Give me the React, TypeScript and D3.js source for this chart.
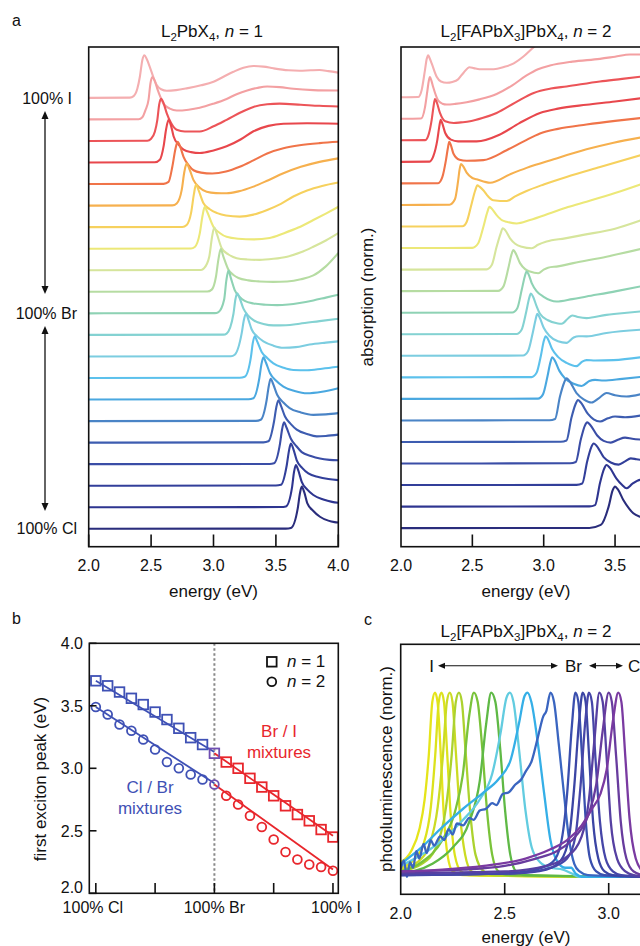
import React from 'react';
import * as d3 from 'd3';

type Pt = [number, number];

const FONT = '"Liberation Sans", Arial, Helvetica, sans-serif';

// ---------- panel a : absorption traces (index 0 = 100% I, top ... 20 = 100% Cl, bottom)
const absColors = ['#f4aeb0', '#f3a0a2', '#ec5458', '#e8474c', '#f07449', '#f6b04e', '#f6d15e', '#ece878', '#d6e59c', '#b6dca2', '#8ed2b4', '#84d2d2', '#7ccde0', '#5cc1ec', '#4aa8e0', '#4a84c6', '#3d5cb0', '#3a4da6', '#323f9a', '#2e3590', '#2a2d7c'];

const absN1: Pt[][] = [
  [[2.0, 0.02], [2.33, 0.03], [2.36, 0.1], [2.39, 0.45], [2.41, 1.0], [2.43, 1.78], [2.446, 2.0], [2.465, 1.82], [2.49, 1.45], [2.52, 0.95], [2.545, 0.62], [2.58, 0.42], [2.625, 0.35], [2.7, 0.38], [2.785, 0.46], [2.9, 0.6], [3.0, 0.77], [3.08, 1.0], [3.16, 1.23], [3.24, 1.42], [3.32, 1.5], [3.4, 1.47], [3.48, 1.39], [3.6, 1.3], [3.69, 1.28], [3.78, 1.3], [3.85, 1.31], [3.92, 1.26], [4.0, 1.19]],
  [[2.0, 0.02], [2.4, 0.03], [2.43, 0.12], [2.455, 0.45], [2.48, 0.95], [2.495, 1.7], [2.51, 1.98], [2.528, 1.82], [2.55, 1.44], [2.575, 1.05], [2.6, 0.74], [2.65, 0.52], [2.705, 0.43], [2.8, 0.47], [2.89, 0.56], [3.0, 0.75], [3.105, 0.97], [3.19, 1.2], [3.27, 1.36], [3.35, 1.48], [3.43, 1.55], [3.53, 1.52], [3.64, 1.44], [3.8, 1.38], [4.0, 1.36]],
  [[2.0, 0.02], [2.47, 0.03], [2.5, 0.12], [2.53, 0.45], [2.55, 1.0], [2.565, 1.72], [2.58, 1.98], [2.6, 1.77], [2.625, 1.31], [2.66, 0.85], [2.705, 0.54], [2.77, 0.46], [2.89, 0.46], [3.0, 0.7], [3.105, 1.0], [3.22, 1.35], [3.32, 1.6], [3.43, 1.72], [3.53, 1.75], [3.7, 1.7], [3.85, 1.65], [4.0, 1.62]],
  [[2.0, 0.02], [2.53, 0.03], [2.57, 0.15], [2.6, 0.77], [2.62, 1.55], [2.64, 2.0], [2.66, 1.72], [2.68, 1.24], [2.72, 0.85], [2.76, 0.62], [2.82, 0.5], [2.89, 0.46], [3.0, 0.58], [3.105, 0.77], [3.22, 1.1], [3.32, 1.47], [3.44, 1.72], [3.56, 1.82], [3.75, 1.84], [4.0, 1.82]],
  [[2.0, 0.02], [2.6, 0.03], [2.64, 0.12], [2.67, 0.82], [2.695, 1.65], [2.713, 1.98], [2.735, 1.72], [2.76, 1.28], [2.8, 0.9], [2.84, 0.66], [2.9, 0.55], [2.99, 0.51], [3.1, 0.6], [3.21, 0.82], [3.32, 1.12], [3.43, 1.44], [3.56, 1.68], [3.69, 1.82], [3.85, 1.92], [4.0, 1.98]],
  [[2.0, 0.02], [2.67, 0.03], [2.705, 0.12], [2.745, 0.74], [2.767, 1.6], [2.785, 1.98], [2.807, 1.72], [2.84, 1.2], [2.89, 0.85], [2.945, 0.66], [3.02, 0.6], [3.105, 0.59], [3.2, 0.68], [3.32, 0.9], [3.44, 1.2], [3.56, 1.52], [3.7, 1.82], [3.85, 2.05], [4.0, 2.21]],
  [[2.0, 0.02], [2.75, 0.03], [2.785, 0.12], [2.82, 0.67], [2.843, 1.55], [2.86, 2.0], [2.88, 1.74], [2.92, 1.13], [2.97, 0.85], [3.03, 0.67], [3.1, 0.56], [3.21, 0.51], [3.32, 0.6], [3.43, 0.82], [3.54, 1.1], [3.64, 1.44], [3.75, 1.72], [3.87, 1.93], [4.0, 2.09]],
  [[2.0, 0.02], [2.82, 0.03], [2.85, 0.1], [2.89, 0.73], [2.912, 1.55], [2.93, 1.96], [2.95, 1.72], [3.0, 1.03], [3.05, 0.75], [3.105, 0.57], [3.2, 0.48], [3.32, 0.45], [3.45, 0.52], [3.56, 0.73], [3.68, 1.0], [3.8, 1.35], [3.9, 1.65], [4.0, 1.96]],
  [[2.0, 0.02], [2.9, 0.03], [2.924, 0.11], [2.966, 0.65], [2.988, 1.55], [3.006, 2.0], [3.028, 1.68], [3.066, 1.04], [3.12, 0.75], [3.186, 0.58], [3.27, 0.52], [3.37, 0.5], [3.48, 0.55], [3.59, 0.65], [3.7, 0.85], [3.8, 1.11], [3.9, 1.4], [4.0, 1.74]],
  [[2.0, 0.02], [2.95, 0.03], [2.986, 0.12], [3.02, 0.73], [3.04, 1.55], [3.058, 2.0], [3.08, 1.64], [3.12, 1.04], [3.16, 0.8], [3.2, 0.66], [3.28, 0.55], [3.37, 0.5], [3.48, 0.48], [3.59, 0.5], [3.7, 0.6], [3.8, 0.78], [3.9, 1.2], [4.0, 1.82]],
  [[2.0, 0.02], [3.01, 0.03], [3.04, 0.08], [3.085, 0.65], [3.103, 1.55], [3.12, 2.0], [3.14, 1.64], [3.17, 1.1], [3.21, 0.78], [3.25, 0.6], [3.32, 0.48], [3.42, 0.42], [3.51, 0.4], [3.6, 0.43], [3.69, 0.5], [3.8, 0.62], [3.9, 0.75], [4.0, 0.88]],
  [[2.0, 0.02], [3.08, 0.03], [3.105, 0.08], [3.16, 1.0], [3.175, 1.65], [3.19, 1.95], [3.21, 1.72], [3.24, 1.24], [3.28, 0.9], [3.32, 0.7], [3.4, 0.53], [3.48, 0.46], [3.58, 0.47], [3.69, 0.54], [3.85, 0.66], [4.0, 0.77]],
  [[2.0, 0.02], [3.14, 0.03], [3.17, 0.1], [3.226, 1.1], [3.243, 1.7], [3.26, 2.0], [3.28, 1.72], [3.306, 1.27], [3.35, 0.95], [3.4, 0.72], [3.48, 0.52], [3.56, 0.42], [3.66, 0.45], [3.77, 0.57], [3.9, 0.66], [4.0, 0.72]],
  [[2.0, 0.02], [3.21, 0.03], [3.25, 0.08], [3.3, 1.0], [3.315, 1.65], [3.33, 1.96], [3.35, 1.72], [3.386, 1.23], [3.43, 0.95], [3.48, 0.7], [3.56, 0.5], [3.64, 0.39], [3.75, 0.38], [3.87, 0.45], [4.0, 0.54]],
  [[2.0, 0.02], [3.28, 0.03], [3.32, 0.08], [3.367, 1.0], [3.384, 1.65], [3.4, 1.98], [3.42, 1.74], [3.453, 1.24], [3.5, 0.9], [3.56, 0.62], [3.65, 0.42], [3.75, 0.31], [3.87, 0.38], [4.0, 0.54]],
  [[2.0, 0.02], [3.34, 0.03], [3.378, 0.08], [3.426, 1.0], [3.443, 1.65], [3.458, 1.98], [3.478, 1.74], [3.51, 1.24], [3.56, 0.88], [3.61, 0.62], [3.7, 0.42], [3.8, 0.31], [3.9, 0.33], [4.0, 0.39]],
  [[2.0, 0.02], [3.4, 0.03], [3.44, 0.08], [3.485, 1.0], [3.503, 1.65], [3.52, 1.98], [3.54, 1.74], [3.573, 1.23], [3.62, 0.88], [3.667, 0.62], [3.75, 0.42], [3.827, 0.31], [3.9, 0.33], [4.0, 0.39]],
  [[2.0, 0.02], [3.45, 0.03], [3.485, 0.06], [3.533, 0.97], [3.55, 1.65], [3.565, 1.96], [3.585, 1.72], [3.62, 1.2], [3.665, 0.85], [3.707, 0.58], [3.78, 0.4], [3.853, 0.28], [3.93, 0.22], [4.0, 0.2]],
  [[2.0, 0.02], [3.5, 0.03], [3.54, 0.06], [3.587, 0.97], [3.605, 1.65], [3.62, 1.98], [3.64, 1.72], [3.667, 1.2], [3.71, 0.85], [3.76, 0.59], [3.84, 0.42], [3.92, 0.33], [4.0, 0.28]],
  [[2.0, 0.02], [3.54, 0.03], [3.58, 0.06], [3.63, 0.97], [3.645, 1.65], [3.66, 1.98], [3.68, 1.72], [3.707, 1.2], [3.75, 0.85], [3.8, 0.59], [3.88, 0.38], [3.95, 0.27], [4.0, 0.23]],
  [[2.0, 0.02], [3.58, 0.03], [3.62, 0.06], [3.675, 0.97], [3.692, 1.65], [3.707, 1.98], [3.727, 1.72], [3.752, 1.2], [3.8, 0.85], [3.853, 0.58], [3.92, 0.4], [3.97, 0.33], [4.0, 0.31]],
];

const absN2: Pt[][] = [
  [[2.0, 0.05], [2.12, 0.06], [2.145, 0.39], [2.168, 1.31], [2.18, 1.82], [2.19, 2.0], [2.2, 1.87], [2.215, 1.62], [2.25, 1.0], [2.28, 0.78], [2.32, 0.72], [2.36, 0.76], [2.4, 0.88], [2.44, 1.2], [2.48, 1.44], [2.51, 1.4], [2.55, 1.35], [2.65, 1.35], [2.72, 1.45], [2.79, 1.62], [2.86, 1.95], [2.93, 2.37], [3.0, 2.7], [3.1, 2.95], [3.3, 3.15], [3.7, 3.3]],
  [[2.0, 0.05], [2.14, 0.06], [2.168, 0.58], [2.185, 1.36], [2.195, 1.82], [2.203, 1.98], [2.213, 1.82], [2.226, 1.51], [2.26, 0.9], [2.29, 0.75], [2.32, 0.71], [2.38, 0.74], [2.46, 0.82], [2.55, 0.95], [2.67, 1.2], [2.78, 1.6], [2.88, 2.06], [2.96, 2.35], [3.044, 2.52], [3.2, 2.7], [3.394, 2.83], [3.5, 2.93], [3.605, 3.03], [3.7, 3.03]],
  [[2.0, 0.05], [2.17, 0.06], [2.195, 0.35], [2.215, 1.0], [2.228, 1.62], [2.238, 1.97], [2.25, 1.82], [2.273, 1.32], [2.31, 0.93], [2.37, 0.85], [2.42, 0.88], [2.484, 0.93], [2.57, 1.08], [2.67, 1.32], [2.8, 1.8], [2.93, 2.25], [3.05, 2.45], [3.16, 2.55], [3.394, 2.78], [3.55, 2.9], [3.7, 3.02]],
  [[2.0, 0.05], [2.2, 0.06], [2.226, 0.3], [2.255, 1.08], [2.268, 1.67], [2.278, 2.0], [2.29, 1.82], [2.31, 1.39], [2.35, 1.08], [2.4, 1.0], [2.53, 1.0], [2.69, 1.31], [2.83, 1.85], [2.974, 2.32], [3.1, 2.52], [3.3, 2.7], [3.5, 2.85], [3.7, 3.02]],
  [[2.0, 0.05], [2.26, 0.06], [2.29, 0.35], [2.315, 1.13], [2.328, 1.67], [2.338, 1.98], [2.35, 1.82], [2.367, 1.44], [2.41, 1.15], [2.46, 1.1], [2.577, 1.13], [2.74, 1.59], [2.86, 2.0], [2.974, 2.37], [3.1, 2.58], [3.3, 2.78], [3.5, 2.95], [3.7, 3.1]],
  [[2.0, 0.05], [2.34, 0.06], [2.378, 0.31], [2.4, 1.16], [2.41, 1.67], [2.42, 1.95], [2.435, 1.85], [2.46, 1.55], [2.5, 1.3], [2.53, 1.24], [2.624, 1.08], [2.764, 1.47], [2.88, 1.77], [3.07, 2.17], [3.3, 2.63], [3.49, 2.94], [3.7, 3.2]],
  [[2.0, 0.05], [2.43, 0.06], [2.46, 0.26], [2.495, 1.11], [2.52, 1.72], [2.535, 1.96], [2.55, 1.9], [2.577, 1.73], [2.61, 1.45], [2.647, 1.27], [2.74, 1.23], [2.8, 1.45], [2.88, 1.7], [3.0, 2.0], [3.16, 2.35], [3.395, 2.81], [3.7, 3.4]],
  [[2.0, 0.05], [2.5, 0.06], [2.54, 0.26], [2.577, 1.03], [2.605, 1.72], [2.62, 1.96], [2.635, 1.88], [2.67, 1.58], [2.71, 1.33], [2.74, 1.27], [2.81, 1.19], [2.904, 1.35], [3.044, 1.66], [3.17, 1.95], [3.3, 2.2], [3.5, 2.6], [3.7, 3.05]],
  [[2.0, 0.05], [2.6, 0.06], [2.636, 0.26], [2.67, 1.11], [2.698, 1.72], [2.713, 1.97], [2.73, 1.88], [2.764, 1.5], [2.8, 1.25], [2.846, 1.11], [2.916, 1.04], [2.96, 1.2], [3.02, 1.35], [3.15, 1.5], [3.277, 1.66], [3.5, 1.95], [3.7, 2.38]],
  [[2.0, 0.05], [2.68, 0.06], [2.717, 0.26], [2.752, 1.11], [2.773, 1.72], [2.787, 1.96], [2.8, 1.85], [2.834, 1.35], [2.87, 1.07], [2.904, 0.96], [2.962, 0.88], [3.0, 1.05], [3.03, 1.14], [3.1, 1.2], [3.207, 1.35], [3.44, 1.65], [3.7, 2.04]],
  [[2.0, 0.05], [2.78, 0.06], [2.815, 0.26], [2.846, 1.11], [2.867, 1.72], [2.88, 1.96], [2.893, 1.85], [2.916, 1.42], [2.95, 1.05], [2.997, 0.8], [3.09, 0.57], [3.2, 0.68], [3.3, 0.8], [3.51, 1.05], [3.7, 1.3]],
  [[2.0, 0.05], [2.81, 0.06], [2.845, 0.26], [2.878, 1.11], [2.898, 1.72], [2.91, 1.94], [2.925, 1.8], [2.95, 1.35], [2.974, 1.0], [3.03, 0.7], [3.1, 0.55], [3.126, 0.54], [3.17, 0.78], [3.2, 0.92], [3.24, 0.85], [3.3, 0.8], [3.44, 0.95], [3.51, 1.0], [3.7, 1.12]],
  [[2.0, 0.05], [2.855, 0.06], [2.89, 0.26], [2.923, 1.11], [2.943, 1.72], [2.955, 2.0], [2.97, 1.85], [3.0, 1.35], [3.04, 0.98], [3.1, 0.72], [3.16, 0.65], [3.21, 0.9], [3.245, 0.96], [3.3, 0.95], [3.44, 1.11], [3.7, 1.27]],
  [[2.0, 0.05], [2.915, 0.06], [2.95, 0.26], [2.982, 1.11], [3.0, 1.72], [3.014, 1.96], [3.03, 1.82], [3.06, 1.35], [3.1, 1.0], [3.16, 0.72], [3.23, 0.57], [3.27, 0.78], [3.3, 0.85], [3.36, 0.83], [3.49, 0.85], [3.7, 1.0]],
  [[2.0, 0.05], [2.96, 0.06], [2.995, 0.26], [3.027, 1.11], [3.046, 1.72], [3.06, 1.98], [3.076, 1.85], [3.11, 1.35], [3.15, 1.0], [3.21, 0.75], [3.266, 0.65], [3.32, 0.88], [3.36, 0.93], [3.42, 0.9], [3.55, 0.98], [3.7, 1.08]],
  [[2.0, 0.05], [3.04, 0.06], [3.08, 0.12], [3.114, 1.16], [3.143, 1.8], [3.16, 2.0], [3.18, 1.88], [3.23, 1.32], [3.28, 1.03], [3.336, 0.88], [3.39, 1.1], [3.44, 1.32], [3.5, 1.22], [3.58, 1.16], [3.7, 1.3]],
  [[2.0, 0.05], [3.12, 0.06], [3.16, 0.12], [3.194, 1.16], [3.223, 1.8], [3.24, 2.0], [3.26, 1.88], [3.31, 1.35], [3.35, 1.1], [3.395, 1.0], [3.45, 1.15], [3.5, 1.23], [3.57, 1.2], [3.7, 1.3]],
  [[2.0, 0.05], [3.185, 0.06], [3.225, 0.12], [3.26, 1.16], [3.288, 1.8], [3.305, 1.96], [3.325, 1.85], [3.375, 1.35], [3.42, 1.1], [3.47, 1.02], [3.52, 1.15], [3.57, 1.25], [3.62, 1.2], [3.7, 1.15]],
  [[2.0, 0.05], [3.23, 0.06], [3.27, 0.12], [3.305, 1.16], [3.333, 1.8], [3.35, 1.98], [3.37, 1.88], [3.42, 1.35], [3.47, 1.1], [3.525, 1.0], [3.57, 1.15], [3.61, 1.29], [3.65, 1.25], [3.7, 1.2]],
  [[2.0, 0.05], [3.32, 0.06], [3.36, 0.12], [3.395, 1.16], [3.423, 1.8], [3.44, 1.98], [3.46, 1.88], [3.51, 1.35], [3.55, 1.05], [3.58, 0.9], [3.62, 1.1], [3.675, 1.29], [3.72, 1.3]],
  [[2.0, 0.05], [3.32, 0.06], [3.4, 0.2], [3.455, 1.05], [3.483, 1.8], [3.5, 1.98], [3.52, 1.85], [3.558, 1.36], [3.6, 0.95], [3.628, 0.74], [3.675, 0.58], [3.72, 0.52]],
];

const absTickValuesLeft = [2.0, 2.5, 3.0, 3.5, 4.0];
const absTickValuesRight = [2.0, 2.5, 3.0, 3.5];
const compLabelsA = ['100% I', '100% Br', '100% Cl'];

// ---------- panel b : first exciton peak vs composition (0 = 100% Cl, 10 = 100% Br, 20 = 100% I)
const compIndex = [0, 1, 2, 3, 4, 5, 6, 7, 8, 9, 10, 11, 12, 13, 14, 15, 16, 17, 18, 19, 20];
const peakN1 = [3.70, 3.66, 3.61, 3.56, 3.51, 3.45, 3.39, 3.32, 3.245, 3.19, 3.12, 3.05, 3.00, 2.92, 2.85, 2.78, 2.70, 2.63, 2.58, 2.51, 2.45];
const peakN2 = [3.49, 3.43, 3.35, 3.30, 3.23, 3.15, 3.05, 3.00, 2.95, 2.91, 2.87, 2.78, 2.71, 2.62, 2.53, 2.43, 2.33, 2.27, 2.23, 2.21, 2.18];
const fitN1ClBr: Pt[] = [[0, 3.70], [10, 3.13]];
const fitN1BrI: Pt[] = [[10, 3.12], [20, 2.46]];
const fitN2ClBr: Pt[] = [[0, 3.49], [10, 2.88]];
const fitN2BrI: Pt[] = [[10, 2.87], [20, 2.19]];
const compTicks = [0, 5, 10, 15, 20];
const compTickLabels: [number, string][] = [[0, '100% Cl'], [10, '100% Br'], [20, '100% I']];
const peakTicks = [2.0, 2.5, 3.0, 3.5, 4.0];

// ---------- panel c : photoluminescence (n = 2)
const plColors = ['#e5e41a', '#dce21c', '#cbdb24', '#acd22e', '#7ac33a', '#5fb946', '#62cce0', '#35afe7', '#3a65c0', '#3a4fae', '#3b45a4', '#4646a8', '#5640a2', '#683c9e', '#7a3aa1'];
const plCurves: Pt[][] = [
  [[2.0, 0.08], [2.05, 0.14], [2.09, 0.26], [2.115, 0.42], [2.135, 0.66], [2.152, 0.95], [2.165, 1.0], [2.177, 0.95], [2.192, 0.68], [2.207, 0.34], [2.225, 0.12], [2.25, 0.03], [2.3, 0.01], [3.2, 0.0]],
  [[2.0, 0.05], [2.06, 0.09], [2.11, 0.18], [2.145, 0.38], [2.166, 0.66], [2.183, 0.95], [2.196, 1.0], [2.208, 0.95], [2.223, 0.68], [2.24, 0.34], [2.26, 0.12], [2.29, 0.03], [2.33, 0.01], [3.2, 0.0]],
  [[2.0, 0.04], [2.08, 0.08], [2.14, 0.18], [2.178, 0.38], [2.203, 0.66], [2.222, 0.95], [2.236, 1.0], [2.249, 0.95], [2.265, 0.68], [2.285, 0.34], [2.31, 0.12], [2.34, 0.03], [2.38, 0.01], [3.2, 0.0]],
  [[2.0, 0.03], [2.1, 0.07], [2.17, 0.16], [2.218, 0.38], [2.245, 0.66], [2.265, 0.95], [2.28, 1.0], [2.294, 0.95], [2.312, 0.68], [2.335, 0.34], [2.36, 0.12], [2.4, 0.03], [2.45, 0.01], [3.2, 0.0]],
  [[2.0, 0.03], [2.1, 0.08], [2.2, 0.2], [2.26, 0.35], [2.298, 0.55], [2.33, 0.88], [2.352, 1.0], [2.37, 0.95], [2.392, 0.7], [2.415, 0.36], [2.44, 0.12], [2.47, 0.03], [2.52, 0.01], [3.2, 0.0]],
  [[2.0, 0.02], [2.15, 0.07], [2.25, 0.16], [2.33, 0.3], [2.38, 0.52], [2.412, 0.84], [2.435, 1.0], [2.455, 0.95], [2.478, 0.7], [2.502, 0.36], [2.527, 0.12], [2.555, 0.03], [2.6, 0.01], [3.2, 0.0]],
  [[2.0, 0.06], [2.1, 0.12], [2.2, 0.2], [2.3, 0.31], [2.38, 0.42], [2.44, 0.56], [2.48, 0.78], [2.508, 0.97], [2.525, 1.0], [2.542, 0.95], [2.57, 0.68], [2.6, 0.36], [2.63, 0.16], [2.67, 0.08], [2.72, 0.05], [2.78, 0.04], [2.82, 0.02], [2.86, 0.0], [3.2, 0.0]],
  [[2.0, 0.07], [2.1, 0.16], [2.2, 0.27], [2.3, 0.37], [2.4, 0.46], [2.47, 0.53], [2.53, 0.64], [2.57, 0.84], [2.595, 0.98], [2.61, 1.0], [2.628, 0.95], [2.66, 0.72], [2.69, 0.45], [2.72, 0.2], [2.75, 0.09], [2.79, 0.05], [2.82, 0.05], [2.84, 0.02], [2.88, 0.0], [3.2, 0.0]],
  [[2.0, 0.04], [2.015, 0.09], [2.03, 0.0], [2.045, 0.08], [2.06, 0.05], [2.075, 0.14], [2.09, 0.1], [2.11, 0.18], [2.125, 0.13], [2.145, 0.2], [2.16, 0.17], [2.19, 0.22], [2.21, 0.2], [2.23, 0.26], [2.25, 0.23], [2.27, 0.29], [2.3, 0.28], [2.33, 0.32], [2.35, 0.31], [2.38, 0.36], [2.41, 0.37], [2.44, 0.4], [2.46, 0.39], [2.49, 0.45], [2.52, 0.46], [2.55, 0.5], [2.58, 0.53], [2.6, 0.57], [2.63, 0.63], [2.66, 0.76], [2.685, 0.87], [2.7, 0.9], [2.72, 1.0], [2.737, 0.95], [2.76, 0.72], [2.785, 0.45], [2.81, 0.2], [2.835, 0.07], [2.86, 0.03], [2.9, 0.01], [3.2, 0.0]],
  [[2.0, 0.01], [2.5, 0.02], [2.65, 0.04], [2.73, 0.08], [2.77, 0.18], [2.8, 0.45], [2.823, 0.82], [2.84, 1.0], [2.854, 0.95], [2.872, 0.65], [2.89, 0.3], [2.91, 0.1], [2.94, 0.03], [2.98, 0.01], [3.2, 0.0]],
  [[2.0, 0.01], [2.55, 0.02], [2.7, 0.04], [2.77, 0.09], [2.81, 0.22], [2.835, 0.5], [2.858, 0.85], [2.875, 1.0], [2.889, 0.95], [2.906, 0.65], [2.925, 0.3], [2.95, 0.1], [2.98, 0.03], [3.02, 0.01], [3.2, 0.0]],
  [[2.0, 0.01], [2.55, 0.02], [2.72, 0.05], [2.8, 0.1], [2.84, 0.22], [2.865, 0.5], [2.888, 0.85], [2.905, 1.0], [2.919, 0.95], [2.936, 0.65], [2.958, 0.3], [2.985, 0.1], [3.02, 0.03], [3.06, 0.01], [3.2, 0.0]],
  [[2.0, 0.02], [2.5, 0.03], [2.7, 0.06], [2.8, 0.11], [2.87, 0.22], [2.905, 0.42], [2.932, 0.75], [2.955, 1.0], [2.971, 0.95], [2.99, 0.65], [3.01, 0.3], [3.04, 0.1], [3.08, 0.03], [3.12, 0.01], [3.2, 0.0]],
  [[2.0, 0.03], [2.3, 0.04], [2.5, 0.06], [2.65, 0.1], [2.75, 0.14], [2.84, 0.22], [2.9, 0.33], [2.94, 0.5], [2.972, 0.8], [3.0, 1.0], [3.015, 0.95], [3.036, 0.65], [3.058, 0.3], [3.085, 0.1], [3.12, 0.03], [3.2, 0.0]],
  [[2.0, 0.03], [2.2, 0.04], [2.4, 0.06], [2.6, 0.1], [2.72, 0.15], [2.8, 0.2], [2.87, 0.28], [2.92, 0.37], [2.96, 0.45], [2.99, 0.58], [3.022, 0.86], [3.046, 1.0], [3.061, 0.95], [3.08, 0.65], [3.1, 0.32], [3.13, 0.1], [3.17, 0.02], [3.2, 0.0]],
];
const plTicks = [2.0, 2.5, 3.0];

const BLUE = '#3f51b5';
const RED = '#e8262c';
const PURPLE = '#6f4fb2';

export default function App() {
  // scales
  const xAL = d3.scaleLinear().domain([2, 4]).range([88.7, 338.3]);
  const xAR = d3.scaleLinear().domain([2, 4]).range([401, 686.4]);
  const yA = d3.scaleLinear().domain([-0.81, 22.38]).range([546.7, 47]);
  const xB = d3.scaleLinear().domain([-0.55, 20.45]).range([89.3, 338.3]);
  const yB = d3.scaleLinear().domain([2, 4]).range([893.3, 643.3]);
  const xC = d3.scaleLinear().domain([2, 3.2]).range([400.7, 650.3]);
  const yC = d3.scaleLinear().domain([-0.094, 1.262]).range([894.3, 644.3]);

  const nTr = absN1.length;
  const traceLine = (xs: d3.ScaleLinear<number, number>, off: number) =>
    d3.line<Pt>().x((d) => xs(d[0])).y((d) => yA(d[1] + off)).curve(d3.curveMonotoneX);
  const plLine = d3.line<Pt>().x((d) => xC(d[0])).y((d) => yC(d[1])).curve(d3.curveMonotoneX);
  const fitLine = d3.line<Pt>().x((d) => xB(d[0])).y((d) => yB(d[1]));

  const txt = { fontFamily: FONT, fontSize: 16, fill: '#111' } as const;
  const ttl = { fontFamily: FONT, fontSize: 17, fill: '#111' } as const;
  const axisW = 1.6;

  const arrowV = (x: number, y1: number, y2: number, key: string) => (
    <g key={key}>
      <line x1={x} x2={x} y1={y1 + 4} y2={y2 - 4} stroke="#111" strokeWidth={1.3} />
      <path d={`M${x},${y1} L${x - 3.5},${y1 + 8} L${x + 3.5},${y1 + 8} Z`} fill="#111" />
      <path d={`M${x},${y2} L${x - 3.5},${y2 - 8} L${x + 3.5},${y2 - 8} Z`} fill="#111" />
    </g>
  );
  const arrowH = (y: number, x1: number, x2: number, key: string) => (
    <g key={key}>
      <line x1={x1 + 4} x2={x2 - 4} y1={y} y2={y} stroke="#111" strokeWidth={1.1} />
      <path d={`M${x1},${y} L${x1 + 7},${y - 3} L${x1 + 7},${y + 3} Z`} fill="#111" />
      <path d={`M${x2},${y} L${x2 - 7},${y - 3} L${x2 - 7},${y + 3} Z`} fill="#111" />
    </g>
  );

  const n2Title = (x: number, y: number) => (
    <text x={x} y={y} textAnchor="middle" {...ttl}>
      <tspan>L</tspan>
      <tspan fontSize={11.5} dy={4}>2</tspan>
      <tspan dy={-4}>[FAPbX</tspan>
      <tspan fontSize={11.5} dy={4}>3</tspan>
      <tspan dy={-4}>]PbX</tspan>
      <tspan fontSize={11.5} dy={4}>4</tspan>
      <tspan dy={-4}>, </tspan>
      <tspan fontStyle="italic">n</tspan>
      <tspan> = 2</tspan>
    </text>
  );

  return (
    <svg width={640} height={946} viewBox="0 0 640 946" style={{ position: 'absolute', left: 0, top: 0, background: '#fff' }}>
      <defs>
        <clipPath id="clipAL"><rect x={88.7} y={47} width={249.6} height={499.7} /></clipPath>
        <clipPath id="clipAR"><rect x={401} y={47} width={260} height={499.7} /></clipPath>
        <clipPath id="clipC"><rect x={400.7} y={644.3} width={260} height={250} /></clipPath>
      </defs>
      <rect x={0} y={0} width={640} height={946} fill="#fff" />

      {/* panel labels */}
      <text x={12} y={26} {...txt}>a</text>
      <text x={12} y={624} {...txt}>b</text>
      <text x={364} y={625} {...txt}>c</text>

      {/* ---------------- panel a left ---------------- */}
      <text x={212} y={37} textAnchor="middle" {...ttl}>
        <tspan>L</tspan>
        <tspan fontSize={11.5} dy={4}>2</tspan>
        <tspan dy={-4}>PbX</tspan>
        <tspan fontSize={11.5} dy={4}>4</tspan>
        <tspan dy={-4}>, </tspan>
        <tspan fontStyle="italic">n</tspan>
        <tspan> = 1</tspan>
      </text>
      <g clipPath="url(#clipAL)">
        {absN1.map((tr, i) => (
          <path key={i} d={traceLine(xAL, nTr - 1 - i)(tr) || ''} fill="none" stroke={absColors[i]} strokeWidth={2.1} strokeLinejoin="round" />
        ))}
      </g>
      <rect x={88.7} y={47} width={249.6} height={499.7} fill="none" stroke="#111" strokeWidth={axisW} />
      {absTickValuesLeft.map((t) => (
        <g key={'tl' + t}>
          <line x1={xAL(t)} x2={xAL(t)} y1={546.7} y2={534.5} stroke="#111" strokeWidth={axisW} />
          <text x={xAL(t)} y={571} textAnchor="middle" {...txt}>{t.toFixed(1)}</text>
        </g>
      ))}
      <text x={213.5} y={597} textAnchor="middle" {...ttl}>energy (eV)</text>

      {/* composition arrows */}
      <text x={72} y={104} textAnchor="end" {...txt}>{compLabelsA[0]}</text>
      <text x={77} y={319} textAnchor="end" {...txt}>{compLabelsA[1]}</text>
      <text x={77} y={534} textAnchor="end" {...txt}>{compLabelsA[2]}</text>
      {arrowV(45, 111, 294, 'arrA1')}
      {arrowV(45, 326, 511, 'arrA2')}

      {/* ---------------- panel a right ---------------- */}
      {n2Title(526, 37)}
      <g clipPath="url(#clipAR)">
        {absN2.map((tr, i) => (
          <path key={i} d={traceLine(xAR, nTr - 1 - i)(tr) || ''} fill="none" stroke={absColors[i]} strokeWidth={2.1} strokeLinejoin="round" />
        ))}
      </g>
      <rect x={401} y={47} width={300} height={499.7} fill="none" stroke="#111" strokeWidth={axisW} />
      {absTickValuesRight.map((t) => (
        <g key={'tr' + t}>
          {t > 2 && <line x1={xAR(t)} x2={xAR(t)} y1={546.7} y2={534.5} stroke="#111" strokeWidth={axisW} />}
          <text x={xAR(t)} y={571} textAnchor="middle" {...txt}>{t.toFixed(1)}</text>
        </g>
      ))}
      <text x={526} y={597} textAnchor="middle" {...ttl}>energy (eV)</text>
      <text transform="translate(373,297) rotate(-90)" textAnchor="middle" {...ttl}>absorption (norm.)</text>

      {/* ---------------- panel b ---------------- */}
      <line x1={xB(10)} x2={xB(10)} y1={643.3} y2={893.3} stroke="#888" strokeWidth={2} strokeDasharray="2.5,2.5" />
      <path d={fitLine(fitN1ClBr) || ''} stroke={BLUE} strokeWidth={1.8} fill="none" />
      <path d={fitLine(fitN2ClBr) || ''} stroke={BLUE} strokeWidth={1.8} fill="none" />
      <path d={fitLine(fitN1BrI) || ''} stroke={RED} strokeWidth={1.8} fill="none" />
      <path d={fitLine(fitN2BrI) || ''} stroke={RED} strokeWidth={1.8} fill="none" />
      {compIndex.map((c, i) => {
        const col = c < 10 ? BLUE : c === 10 ? PURPLE : RED;
        return (
          <g key={'pb' + i}>
            <rect x={xB(c) - 4.8} y={yB(peakN1[i]) - 4.8} width={9.6} height={9.6} fill="none" stroke={col} strokeWidth={1.8} />
            <circle cx={xB(c)} cy={yB(peakN2[i])} r={4.4} fill="none" stroke={col} strokeWidth={1.8} />
          </g>
        );
      })}
      <rect x={89.3} y={643.3} width={249} height={250} fill="none" stroke="#111" strokeWidth={axisW} />
      {compTicks.map((t) => (
        <line key={'cb' + t} x1={xB(t)} x2={xB(t)} y1={893.3} y2={883} stroke="#111" strokeWidth={axisW} />
      ))}
      {peakTicks.map((t) => (
        <g key={'pt' + t}>
          <line x1={89.3} x2={96.5} y1={yB(t)} y2={yB(t)} stroke="#111" strokeWidth={axisW} />
          <text x={83} y={Math.min(yB(t) + 6, 893)} textAnchor="end" {...txt}>{t.toFixed(1)}</text>
        </g>
      ))}
      {compTickLabels.map(([c, s]) => (
        <text key={s} x={xB(c) + (c === 20 ? 3 : c === 0 ? -3 : 0)} y={913} textAnchor="middle" {...txt}>{s}</text>
      ))}
      <text transform="translate(46,779) rotate(-90)" textAnchor="middle" {...ttl}>first exciton peak (eV)</text>
      <text x={150} y={793} textAnchor="middle" {...ttl} fill={BLUE}>Cl / Br</text>
      <text x={150} y={814} textAnchor="middle" {...ttl} fill={BLUE}>mixtures</text>
      <text x={279} y={737} textAnchor="middle" {...ttl} fill={RED}>Br / I</text>
      <text x={279} y={758} textAnchor="middle" {...ttl} fill={RED}>mixtures</text>
      {/* legend */}
      <rect x={267} y={657} width={9.6} height={9.6} fill="none" stroke="#111" strokeWidth={1.8} />
      <text x={287} y={667} {...ttl}><tspan fontStyle="italic">n</tspan> = 1</text>
      <circle cx={271.8} cy={681.7} r={4.4} fill="none" stroke="#111" strokeWidth={1.8} />
      <text x={287} y={687} {...ttl}><tspan fontStyle="italic">n</tspan> = 2</text>

      {/* ---------------- panel c ---------------- */}
      {n2Title(526, 637)}
      <g clipPath="url(#clipC)">
        {plCurves.map((c, i) => (
          <path key={i} d={plLine(c) || ''} fill="none" stroke={plColors[i]} strokeWidth={2.3} strokeLinejoin="round" />
        ))}
      </g>
      <rect x={400.7} y={644.3} width={300} height={250} fill="none" stroke="#111" strokeWidth={axisW} />
      {plTicks.map((t) => (
        <g key={'pc' + t}>
          {t > 2 && <line x1={xC(t)} x2={xC(t)} y1={894.3} y2={883} stroke="#111" strokeWidth={axisW} />}
          <text x={xC(t)} y={919} textAnchor="middle" {...txt}>{t.toFixed(1)}</text>
        </g>
      ))}
      <text x={526} y={943} textAnchor="middle" {...ttl}>energy (eV)</text>
      <text transform="translate(392,769) rotate(-90)" textAnchor="middle" {...ttl}>photoluminescence (norm.)</text>
      <text x={431.5} y={671.5} textAnchor="middle" {...ttl}>I</text>
      {arrowH(665.7, 438, 558, 'arrC1')}
      <text x={565} y={671.5} {...ttl}>Br</text>
      {arrowH(665.7, 589, 623, 'arrC2')}
      <text x={628} y={671.5} {...ttl}>Cl</text>
    </svg>
  );
}
